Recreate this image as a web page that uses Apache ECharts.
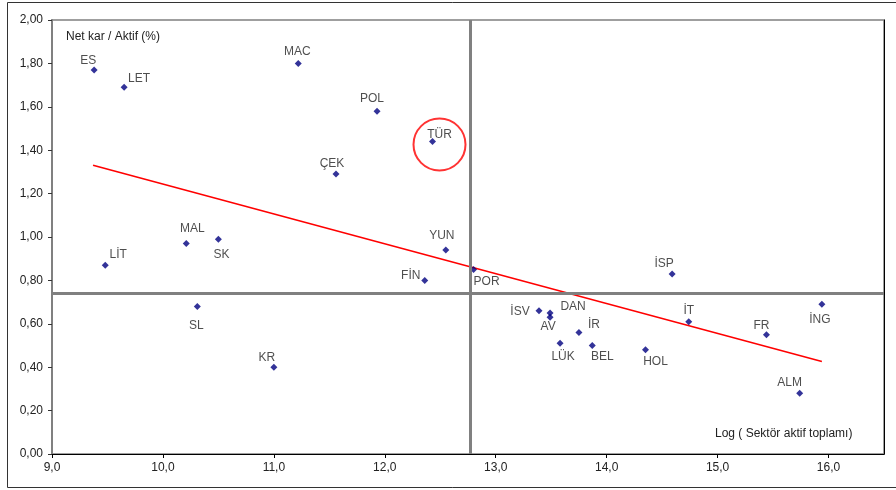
<!DOCTYPE html>
<html>
<head>
<meta charset="utf-8">
<script src="https://cdn.jsdelivr.net/npm/echarts@6/dist/echarts.min.js"></script>
<style>
  html, body { margin: 0; padding: 0; background: #fff; }
  #chart { width: 896px; height: 490px; }
</style>
</head>
<body>
<div id="chart"></div>
<script>
// Countries, log of sector total assets, net profit / assets (%)
const countries = ['ES', 'LET', 'MAC', 'POL', 'TÜR', 'ÇEK', 'MAL', 'SK', 'LİT', 'SL', 'KR',
  'YUN', 'FİN', 'POR', 'İSV', 'DAN', 'AV', 'İR', 'LÜK', 'BEL', 'HOL', 'ALM', 'FR', 'İT', 'İNG', 'İSP'];
const logAssets = [9.38, 9.65, 11.22, 11.93, 12.43, 11.56, 10.21, 10.50, 9.48, 10.31, 11.00,
  12.55, 12.36, 12.80, 13.39, 13.49, 13.49, 13.75, 13.58, 13.87, 14.35, 15.74, 15.44, 14.74, 15.94, 14.59];
const roa = [1.77, 1.69, 1.80, 1.58, 1.44, 1.29, 0.97, 0.99, 0.87, 0.68, 0.40,
  0.94, 0.80, 0.85, 0.66, 0.65, 0.63, 0.56, 0.51, 0.50, 0.48, 0.28, 0.55, 0.61, 0.69, 0.83];

// Linear trend (end points) and the two dividing lines
const trendX = [9.37, 15.94];
const trendY = [1.331, 0.426];
const dividerX = 12.77;
const dividerY = 0.742;

// Highlighted country
const highlight = 'TÜR';

const xTicks = { min: 9, max: 16.5, step: 1 };
const yTicks = { min: 0, max: 2, step: 0.2 };

// Label placement around each marker (dx, dy in px from the marker centre)
const labelOffsets = {
  'ES': [-6, -9], 'LET': [15, -9], 'MAC': [-1, -12], 'POL': [-5, -12], 'TÜR': [7, -7],
  'ÇEK': [-4, -10], 'MAL': [6, -15], 'SK': [3, 16], 'LİT': [13, -11], 'SL': [-1, 19],
  'KR': [-7, -10], 'YUN': [-4, -14], 'FİN': [-14, -5], 'POR': [13, 12], 'İSV': [-19, 1],
  'DAN': [23, -6], 'AV': [-2, 9], 'İR': [15, -8], 'LÜK': [3, 13], 'BEL': [10, 11],
  'HOL': [10, 12], 'ALM': [-10, -11], 'FR': [-5, -9], 'İT': [0, -11], 'İNG': [-2, 15],
  'İSP': [-8, -10]
};

const font = 'Liberation Sans, Arial, sans-serif';
const textColor = '#222';

const points = countries.map((c, i) => ({
  name: c,
  value: [logAssets[i], roa[i]],
  label: {
    show: true,
    position: 'inside',
    offset: labelOffsets[c] || [0, -10],
    formatter: c,
    align: 'center',
    verticalAlign: 'middle',
    color: textColor,
    fontFamily: font,
    fontSize: 12
  }
}));

const hiIdx = countries.indexOf(highlight);

const chart = echarts.init(document.getElementById('chart'), null, { renderer: 'canvas' });

chart.setOption({
  animation: false,
  backgroundColor: '#fff',
  grid: {
    left: 52, right: 12, top: 20, bottom: 36,
    show: true, borderColor: '#808080', borderWidth: 1.5, backgroundColor: 'transparent'
  },
  xAxis: {
    type: 'value',
    min: xTicks.min, max: xTicks.max, interval: xTicks.step,
    axisLine: { show: true, onZero: false, lineStyle: { color: '#000', width: 1 } },
    axisTick: { show: true, length: 4, lineStyle: { color: '#000' } },
    axisLabel: {
      showMaxLabel: false,
      color: textColor, fontFamily: font, fontSize: 12, margin: 8,
      formatter: v => v.toFixed(1).replace('.', ',')
    },
    splitLine: { show: false }
  },
  yAxis: [{
    type: 'value',
    min: yTicks.min, max: yTicks.max, interval: yTicks.step,
    axisLine: { show: true, onZero: false, lineStyle: { color: '#808080', width: 2 } },
    axisTick: { show: true, length: 4, lineStyle: { color: '#333' } },
    axisLabel: {
      color: textColor, fontFamily: font, fontSize: 12, margin: 9,
      formatter: v => v.toFixed(2).replace('.', ',')
    },
    splitLine: { show: false }
  }, {
    type: 'value',
    position: 'right',
    min: yTicks.min, max: yTicks.max,
    axisLine: { show: true, lineStyle: { color: '#000', width: 1 } },
    axisTick: { show: false },
    axisLabel: { show: false },
    splitLine: { show: false }
  }],
  graphic: [
    {
      type: 'rect', silent: true, z: -10,
      shape: { x: 7.5, y: 2.5, width: 1000, height: 485 },
      style: { fill: 'none', stroke: '#333', lineWidth: 1 }
    },
    {
      type: 'text', x: 66, y: 37,
      style: { text: 'Net kar / Aktif (%)', fill: textColor, font: '12px ' + font, verticalAlign: 'middle' }
    },
    {
      type: 'text', x: 715, y: 434,
      style: { text: 'Log ( Sektör aktif toplamı)', fill: textColor, font: '12px ' + font, verticalAlign: 'middle' }
    }
  ],
  series: [
    {
      type: 'line',
      data: [[trendX[0], trendY[0]], [trendX[1], trendY[1]]],
      showSymbol: false,
      lineStyle: { color: '#ff0000', width: 1.6 },
      z: 3,
      markLine: {
        silent: true,
        symbol: 'none',
        label: { show: false },
        lineStyle: { color: '#808080', width: 3, type: 'solid' },
        data: [{ xAxis: dividerX }, { yAxis: dividerY }]
      }
    },
    {
      type: 'scatter',
      data: points,
      symbol: 'diamond',
      symbolSize: 7,
      itemStyle: { color: '#000080' },
      z: 4
    },
    {
      type: 'scatter',
      data: [[logAssets[hiIdx], roa[hiIdx]]],
      symbol: 'circle',
      symbolSize: 52,
      symbolOffset: [7, 3],
      itemStyle: { color: 'rgba(0,0,0,0)', borderColor: '#ff0000', borderWidth: 2 },
      z: 5,
      silent: true
    }
  ]
});
</script>
</body>
</html>
